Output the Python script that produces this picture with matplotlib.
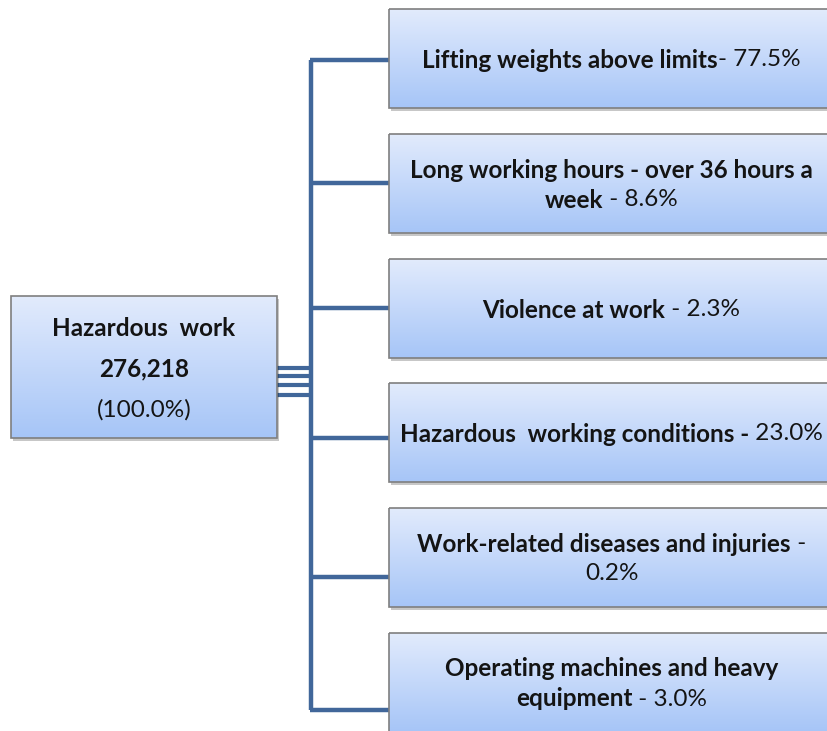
import matplotlib
matplotlib.use("Agg")
import matplotlib.pyplot as plt
import numpy as np
from matplotlib.patches import Rectangle
from matplotlib.colors import LinearSegmentedColormap

# ---- data ----
root_title = "Hazardous  work"
root_total = "276,218"
root_share = "(100.0%)"

categories = [
    "Lifting weights above limits",
    "Long working hours - over 36 hours a week",
    "Violence at work",
    "Hazardous working conditions",
    "Work-related diseases and injuries",
    "Operating machines and heavy equipment",
]
percentages = ["77.5%", "8.6%", "2.3%", "23.0%", "0.2%", "3.0%"]

# each label: list of lines; each line a list of (text, bold?) segments
label_lines = [
    [[("Lifting weights above limits", True), ("- 77.5%", False)]],
    [[("Long working hours - over 36 hours a", True)],
     [("week", True), (" - 8.6%", False)]],
    [[("Violence at work", True), (" - 2.3%", False)]],
    [[("Hazardous  working conditions -", True), (" 23.0%", False)]],
    [[("Work-related diseases and injuries", True), (" -", False)],
     [("0.2%", False)]],
    [[("Operating machines and heavy", True)],
     [("equipment", True), (" - 3.0%", False)]],
]

# ---- layout (pixel coordinates) ----
W, H = 827, 731
box_top = [9, 134, 259, 383, 508, 633]
box_h = 99
box_x0, box_x1 = 389, 836
conn_y = [60, 183, 308, 438, 577, 710]
trunk_x = 311
root_box = (11, 296, 277, 438)
stub_y = [368, 376, 385, 395]

FONT = "Lato"
FS = 17.5
TXT = "#141414"
LINE = "#41679a"

fig = plt.figure(figsize=(W / 100, H / 100), dpi=100)
ax = fig.add_axes([0, 0, 1, 1])
ax.set_xlim(0, W)
ax.set_ylim(H, 0)
ax.axis("off")

cmap = LinearSegmentedColormap.from_list("g", ["#e2ebfc", "#c4d8fa", "#a6c5f7"])
grad = np.linspace(0, 1, 256).reshape(-1, 1)


def draw_box(x0, y0, x1, y1):
    sh = Rectangle((x0 + 2, y0 + 3), x1 - x0, y1 - y0, facecolor="#000000",
                   alpha=0.22, edgecolor="none", zorder=2)
    ax.add_patch(sh)
    rect = Rectangle((x0, y0), x1 - x0, y1 - y0, facecolor="none",
                     edgecolor="#7f7f7f", linewidth=1.2, zorder=4)
    ax.add_patch(rect)
    im = ax.imshow(grad, extent=(x0, x1, y1, y0), cmap=cmap, aspect="auto",
                   zorder=3, interpolation="bilinear")
    clip = Rectangle((x0, y0), x1 - x0, y1 - y0, transform=ax.transData)
    im.set_clip_path(clip)


fig.canvas.draw()
renderer = fig.canvas.get_renderer()


def text_line(segments, cx, cy, fs=FS):
    objs = []
    widths = []
    for s, b in segments:
        t = ax.text(0, cy, s, fontsize=fs, family=FONT,
                    fontweight="bold" if b else "normal", color=TXT,
                    ha="left", va="center", zorder=6)
        bb = t.get_window_extent(renderer=renderer)
        objs.append(t)
        widths.append(bb.width)
    total = sum(widths)
    x = cx - total / 2
    for t, w in zip(objs, widths):
        t.set_x(x)
        x += w


# connectors
ax.plot([trunk_x, trunk_x], [conn_y[0], conn_y[-1]], color=LINE, lw=3.2,
        solid_capstyle="butt", zorder=1)
for y in conn_y:
    ax.plot([trunk_x - 1.5, box_x0], [y, y], color=LINE, lw=3.2,
            solid_capstyle="butt", zorder=1)
for y in stub_y:
    ax.plot([root_box[2], trunk_x], [y, y], color=LINE, lw=3.0,
            solid_capstyle="butt", zorder=1)

# root box
draw_box(*root_box)
rcx = (root_box[0] + root_box[2]) / 2
text_line([(root_title, True)], rcx, 328, 17.5)
text_line([(root_total, True)], rcx, 369, 17.5)
text_line([(root_share, False)], rcx, 410, 17.5)

# category boxes
cx = (box_x0 + box_x1) / 2 - 1
gap = 30
for top, lines in zip(box_top, label_lines):
    draw_box(box_x0, top, box_x1, top + box_h)
    mid = top + box_h / 2 + 1.5
    n = len(lines)
    for i, segs in enumerate(lines):
        y = mid + (i - (n - 1) / 2) * gap
        text_line(segs, cx, y)

fig.savefig("out.png", dpi=100, facecolor="white")
